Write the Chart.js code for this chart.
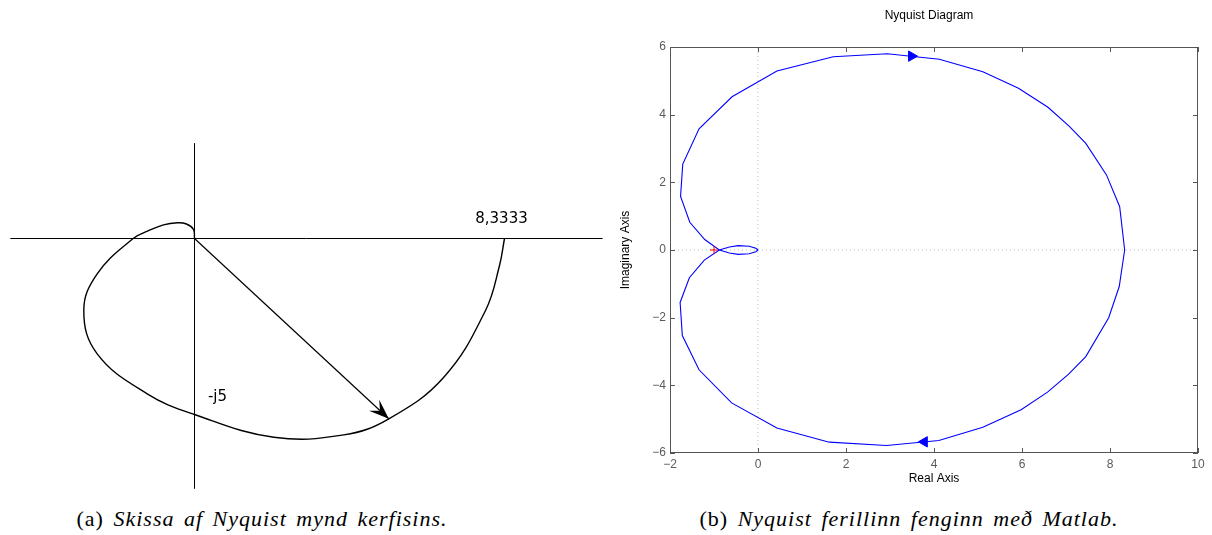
<!DOCTYPE html>
<html>
<head>
<meta charset="utf-8">
<script src="https://cdn.jsdelivr.net/npm/chart.js@4.4.0/dist/chart.umd.min.js"></script>
<style>
  body { margin: 0; background: #fff; width: 1212px; height: 535px; position: relative; overflow: hidden; }
  #wrapA { position: absolute; left: 0; top: 130px; width: 612px; height: 370px; }
  #wrapB { position: absolute; left: 612px; top: 0; width: 600px; height: 500px; }
  .cap { position: absolute; top: 506px; line-height: 26px; font-family: "Liberation Serif", serif; font-size: 22px;
         letter-spacing: 1px; word-spacing: 3px; white-space: nowrap; transform: translateX(-50%); color: #000; }
</style>
</head>
<body>
<div id="wrapA"><canvas id="sketch"></canvas></div>
<div id="wrapB"><canvas id="nyquist"></canvas></div>
<div class="cap" style="left:262px">(a) <i>Skissa af Nyquist mynd kerfisins.</i></div>
<div class="cap" style="left:909px">(b) <i>Nyquist ferillinn fenginn með Matlab.</i></div>
<script>
// ---- (a) hand sketch ----
var sketchRe = [0, -0.027, -0.215, -0.457, -0.833, -1.263, -1.65, -2.616, -2.976, -2.616, -1.272, 0,
                2.132, 4.013, 5.223, 6.702, 7.823, 8.199, 8.3333];
var sketchIm = [0, 0.256, 0.412, 0.446, 0.389, 0.207, 0, -1.003, -2.045, -3.276, -4.412, -5.0,
                -5.645, -5.58, -5.122, -3.940, -2.045, -0.767, 0];
var sketchAxisRe = [-4.95, 10.97];
var sketchAxisIm = [2.70, -7.10];
var vectorRe = [0, 5.223];
var vectorIm = [0, -5.122];
var sketchLabels = ['8,3333', '-j5'];
var labelRe = [8.3333, 0];
var labelIm = [0, -5];

// ---- (b) Matlab nyquist() ----
var upperRe = [0, -0.05, -0.2, -0.45, -0.65, -0.88, -1.21, -1.55, -1.76, -1.71, -1.34, -0.59, 0.43, 1.71, 2.94,
               4.12, 5.11, 5.92, 6.59, 7.07, 7.45, 7.92, 8.22, 8.3333];
var upperIm = [0, -0.05, -0.11, -0.13, -0.09, 0, 0.31, 0.82, 1.58, 2.54, 3.58, 4.53, 5.29, 5.71, 5.80,
               5.64, 5.27, 4.78, 4.22, 3.66, 3.15, 2.22, 1.28, 0];
var lowerRe = [8.3333, 8.21, 7.97, 7.45, 7.06, 6.58, 5.98, 5.11, 4.11, 2.92, 1.62, 0.43, -0.6, -1.34, -1.72,
               -1.77, -1.56, -1.22, -0.88, -0.65, -0.45, -0.2, -0.05, 0];
var lowerIm = [0, -1.08, -2.0, -3.15, -3.67, -4.2, -4.72, -5.24, -5.63, -5.78, -5.68, -5.26, -4.52, -3.54, -2.53,
               -1.55, -0.82, -0.30, 0, 0.09, 0.13, 0.11, 0.05, 0];
var dirRe = [3.49, 3.78];
var dirIm = [5.73, -5.67];
var dirAngle = [90, -90];
var criticalRe = [-1];
var criticalIm = [0];
var reRange = [-2, 10];
var imRange = [-6, 6];
var tickStep = 2;

function pts(xs, ys) {
  return xs.map(function (x, i) { return { x: x, y: ys[i] }; });
}

var sansFont = '"Liberation Sans", Arial, sans-serif';

// arrowhead + text for the sketch
var sketchDecor = {
  id: 'sketchDecor',
  afterDatasetsDraw: function (chart) {
    var ctx = chart.ctx;
    var meta = chart.getDatasetMeta(3);
    var a = meta.data[0], b = meta.data[1];
    var dx = b.x - a.x, dy = b.y - a.y, len = Math.sqrt(dx * dx + dy * dy);
    var ux = dx / len, uy = dy / len, nx = -uy, ny = ux;
    var L = 20, W = 7.5;
    ctx.save();
    ctx.fillStyle = '#000';
    ctx.beginPath();
    ctx.moveTo(b.x, b.y);
    ctx.lineTo(b.x - ux * L + nx * W, b.y - uy * L + ny * W);
    ctx.lineTo(b.x - ux * L * 0.6, b.y - uy * L * 0.6);
    ctx.lineTo(b.x - ux * L - nx * W, b.y - uy * L - ny * W);
    ctx.closePath();
    ctx.fill();

    ctx.font = '15px "DejaVu Sans", sans-serif';
    ctx.textAlign = 'center';
    ctx.textBaseline = 'middle';
    var xs = chart.scales.x, ys = chart.scales.y;
    var offs = [[-3, -19], [23, -17]];
    sketchLabels.forEach(function (t, i) {
      ctx.fillText(t, xs.getPixelForValue(labelRe[i]) + offs[i][0], ys.getPixelForValue(labelIm[i]) + offs[i][1]);
    });
    ctx.restore();
  }
};

new Chart(document.getElementById('sketch'), {
  type: 'scatter',
  data: {
    datasets: [
      { data: pts(sketchAxisRe, [0, 0]), showLine: true, borderColor: '#000', borderWidth: 1, pointRadius: 0 },
      { data: pts([0, 0], sketchAxisIm), showLine: true, borderColor: '#000', borderWidth: 1, pointRadius: 0 },
      { data: pts(sketchRe, sketchIm), showLine: true, tension: 0.4, borderColor: '#000', borderWidth: 1.4, pointRadius: 0 },
      { data: pts(vectorRe, vectorIm), showLine: true, borderColor: '#000', borderWidth: 1.2, pointRadius: 0 }
    ]
  },
  options: {
    responsive: true,
    maintainAspectRatio: false,
    animation: false,
    events: [],
    layout: { padding: 0 },
    plugins: { legend: { display: false }, tooltip: { enabled: false } },
    scales: {
      // zero lands on a half pixel so the axis lines stay crisp
      x: { type: 'linear', display: false, min: -5.2285, max: 11.2231 },
      y: { type: 'linear', display: false, min: -7.4290, max: 3.0824 }
    }
  },
  plugins: [sketchDecor]
});

// Matlab-style box with inward ticks and title
var matlabAxes = {
  id: 'matlabAxes',
  afterDraw: function (chart) {
    var ctx = chart.ctx, a = chart.chartArea;
    var xs = chart.scales.x, ys = chart.scales.y;
    var tl = 5;
    ctx.save();
    ctx.strokeStyle = '#555';
    ctx.lineWidth = 1;
    ctx.strokeRect(a.left + 0.5, a.top + 0.5, a.right - a.left - 1, a.bottom - a.top - 1);
    ctx.beginPath();
    xs.ticks.forEach(function (t) {
      var p = Math.round(xs.getPixelForValue(t.value)) + 0.5;
      ctx.moveTo(p, a.bottom); ctx.lineTo(p, a.bottom - tl);
      ctx.moveTo(p, a.top); ctx.lineTo(p, a.top + tl);
    });
    ys.ticks.forEach(function (t) {
      var p = Math.round(ys.getPixelForValue(t.value)) + 0.5;
      ctx.moveTo(a.left, p); ctx.lineTo(a.left + tl, p);
      ctx.moveTo(a.right, p); ctx.lineTo(a.right - tl, p);
    });
    ctx.stroke();
    ctx.fillStyle = '#000';
    ctx.font = '12px ' + sansFont;
    ctx.textAlign = 'center';
    ctx.textBaseline = 'middle';
    ctx.fillText('Nyquist Diagram', (a.left + a.right) / 2 - 5, 16);
    ctx.restore();
  }
};

function minusLabel(v) {
  return v < 0 ? '\u2212' + Math.abs(v) : String(v);
}

new Chart(document.getElementById('nyquist'), {
  type: 'scatter',
  data: {
    datasets: [
      { data: pts(dirRe, dirIm), pointStyle: 'triangle', pointRotation: dirAngle, pointRadius: 6,
        backgroundColor: '#0000ff', borderColor: '#0000ff', borderWidth: 1 },
      { data: pts(criticalRe, criticalIm), pointStyle: 'cross', pointRadius: 4, borderColor: '#ff0000', borderWidth: 1 },
      { data: pts(upperRe, upperIm), showLine: true, borderColor: '#0000ff', borderWidth: 1.1, pointRadius: 0 },
      { data: pts(lowerRe, lowerIm), showLine: true, borderColor: '#0000ff', borderWidth: 1.1, pointRadius: 0 },
      { data: pts(reRange, [0, 0]), showLine: true, borderColor: '#bdbdbd', borderWidth: 1, borderDash: [1, 3], pointRadius: 0 },
      { data: pts([0, 0], imRange), showLine: true, borderColor: '#bdbdbd', borderWidth: 1, borderDash: [1, 3], pointRadius: 0 }
    ]
  },
  options: {
    responsive: true,
    maintainAspectRatio: false,
    animation: false,
    events: [],
    layout: { padding: { top: 47, right: 14, left: 0, bottom: 0 } },
    plugins: { legend: { display: false }, tooltip: { enabled: false } },
    scales: {
      x: {
        type: 'linear', min: reRange[0], max: reRange[1],
        grid: { display: false, drawTicks: false }, border: { display: false },
        ticks: { stepSize: tickStep, padding: 4, color: '#5a5a5a', font: { family: sansFont, size: 12 },
                 maxRotation: 0, autoSkip: false, callback: minusLabel },
        title: { display: true, text: 'Real Axis', color: '#000', font: { family: sansFont, size: 12 },
                 padding: { top: 0, bottom: 14.4 } },
        afterFit: function (s) { s.height = 47; }
      },
      y: {
        type: 'linear', min: imRange[0], max: imRange[1],
        grid: { display: false, drawTicks: false }, border: { display: false },
        ticks: { stepSize: tickStep, padding: 4, color: '#5a5a5a', font: { family: sansFont, size: 12 },
                 callback: minusLabel },
        title: { display: true, text: 'Imaginary Axis', color: '#000', font: { family: sansFont, size: 12 },
                 padding: { top: 6.8, bottom: 0 } },
        afterFit: function (s) { s.width = 58; }
      }
    }
  },
  plugins: [matlabAxes]
});
</script>
</body>
</html>
